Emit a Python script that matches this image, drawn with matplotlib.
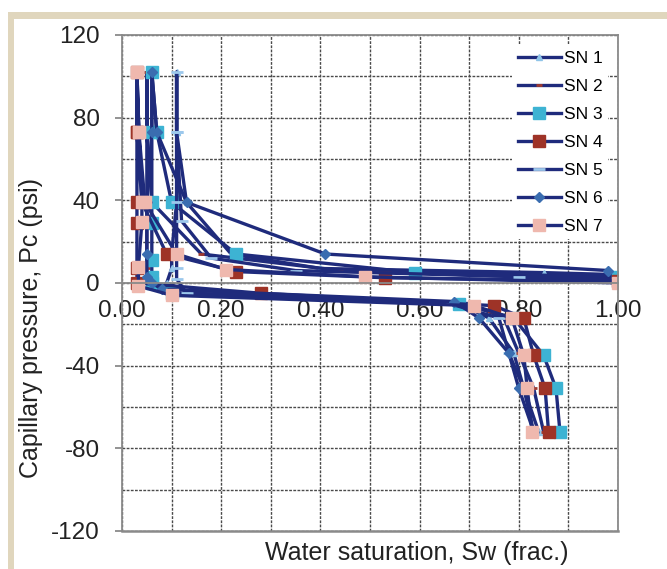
import matplotlib
matplotlib.use('Agg')
import matplotlib.pyplot as plt
from matplotlib.patches import Rectangle

plt.rcParams['font.family'] = ['Liberation Sans', 'DejaVu Sans']
plt.rcParams['axes.unicode_minus'] = False

# capillary pressure curves: primary drainage (Sw=1 -> Swi) then imbibition
labels = ['SN 1', 'SN 2', 'SN 3', 'SN 4', 'SN 5', 'SN 6', 'SN 7']

sn1_sw = [1.00, 0.85, 0.40, 0.22, 0.13, 0.11, 0.11, 0.11, 0.11, 0.10, 0.10, 0.09, 0.14, 0.68, 0.74, 0.79, 0.81, 0.84]
sn1_pc = [4, 5, 7, 14, 39, 73, 102, 73, 39, 14, 7, 0, -5, -10, -17, -34, -51, -72]

sn2_sw = [1.00, 0.82, 0.44, 0.16, 0.06, 0.05, 0.05, 0.05, 0.05, 0.05, 0.05, 0.05, 0.12, 0.70, 0.77, 0.80, 0.83, 0.85]
sn2_pc = [2, 3, 6, 14, 39, 73, 102, 73, 39, 29, 7, 0, -5, -10, -17, -34, -51, -72]

sn3_sw = [1.00, 0.59, 0.23, 0.10, 0.07, 0.06, 0.06, 0.06, 0.06, 0.06, 0.06, 0.06, 0.10, 0.68, 0.79, 0.85, 0.875, 0.883]
sn3_pc = [3, 5, 14, 39, 73, 102, 73, 39, 29, 11, 3, 0, -5, -10, -17, -35, -51, -72]

sn4_sw = [1.00, 0.53, 0.23, 0.09, 0.04, 0.03, 0.03, 0.03, 0.03, 0.03, 0.03, 0.03, 0.28, 0.75, 0.81, 0.83, 0.853, 0.86]
sn4_pc = [1, 2.5, 5.5, 14, 39, 73, 102, 73, 39, 29, 7, 0, -5, -11, -17, -35, -51, -72]

sn5_sw = [1.00, 0.80, 0.35, 0.18, 0.12, 0.11, 0.11, 0.11, 0.11, 0.11, 0.11, 0.11, 0.13, 0.66, 0.76, 0.78, 0.81, 0.83]
sn5_pc = [1, 3, 6, 12, 30, 73, 102, 73, 39, 14, 7, 2, -5, -10, -17, -34, -51, -72]

sn6_sw = [0.98, 0.41, 0.13, 0.07, 0.06, 0.06, 0.05, 0.05, 0.05, 0.06, 0.08, 0.67, 0.72, 0.78, 0.80, 0.83]
sn6_pc = [6, 14, 39, 73, 102, 73, 39, 14, 3, 0, -3, -9, -17, -34, -51, -72]

sn7_sw = [1.00, 0.49, 0.21, 0.11, 0.046, 0.034, 0.03, 0.034, 0.04, 0.04, 0.033, 0.033, 0.10, 0.71, 0.786, 0.81, 0.817, 0.827]
sn7_pc = [0, 3, 6.5, 14, 39, 73, 102, 73, 39, 29.5, 7.5, -1.5, -6, -11, -17, -35, -51, -72]

x_ticks = [0.0, 0.2, 0.4, 0.6, 0.8, 1.0]
y_ticks = [-120, -80, -40, 0, 40, 80, 120]

series = [(sn1_sw, sn1_pc), (sn2_sw, sn2_pc), (sn3_sw, sn3_pc), (sn4_sw, sn4_pc),
          (sn5_sw, sn5_pc), (sn6_sw, sn6_pc), (sn7_sw, sn7_pc)]

navy = '#1f2b7c'
styles = [
    dict(marker='^', ms=5, mfc='#8fc4e8', mec='#8fc4e8'),
    dict(marker='_', ms=5, mfc='#a03a30', mec='#a03a30', mew=2),
    dict(marker='s', ms=8.5, mfc='#3db3d3', mec='#3db3d3'),
    dict(marker='s', ms=8.5, mfc='#9e3327', mec='#9e3327'),
    dict(marker='_', ms=8, mfc='#9cc8ec', mec='#9cc8ec', mew=2),
    dict(marker='D', ms=5, mfc='#3a6db0', mec='#3a6db0'),
    dict(marker='s', ms=8.5, mfc='#efb8ae', mec='#efb8ae'),
]

fig = plt.figure(figsize=(6.67, 5.69), dpi=100)
fig.patch.set_facecolor('white')

# beige frame along the top and left edges
fig.add_artist(Rectangle((0.012, 0.0), 0.009, 0.979, transform=fig.transFigure,
                         facecolor='#e0d6bd', edgecolor='none'))
fig.add_artist(Rectangle((0.012, 0.967), 0.988, 0.012, transform=fig.transFigure,
                         facecolor='#e0d6bd', edgecolor='none'))

ax = fig.add_axes([0.183, 0.067, 0.7435, 0.8715])

for (sw, pc), lab, st in zip(series, labels, styles):
    ax.plot(sw, pc, color=navy, lw=2.4, label=lab, **st)

ax.set_xlim(0, 1.0)
ax.set_ylim(-120, 120)
ax.set_xticks(x_ticks)
ax.set_xticklabels([f'{v:.2f}' for v in x_ticks])
ax.set_yticks(y_ticks)
ax.set_xticks([i / 10 for i in range(11)], minor=True)
ax.set_yticks(list(range(-120, 121, 20)), minor=True)
ax.grid(True, which='both', color='#4a4a4a', lw=1.0, ls=(0, (2, 1)))
ax.set_axisbelow(True)

for s in ax.spines.values():
    s.set_color('#8a8a8a')
    s.set_linewidth(1.3)
ax.spines['bottom'].set_position(('data', 0))
ax.axhline(-120, color='#8a8a8a', lw=1.8, clip_on=False)

ax.tick_params(axis='x', which='both', length=0, pad=12, labelsize=17.5, colors='#222222')
ax.tick_params(axis='y', which='major', length=5, pad=11, labelsize=17.5,
               colors='#8a8a8a', labelcolor='#222222', width=1.3)
ax.tick_params(axis='y', which='minor', length=0)

fig.text(417 / 667, 1 - 553 / 569, 'Water saturation, Sw (frac.)', fontsize=18,
         color='#222222', ha='center', va='center')
fig.text(31 / 667, 1 - 328 / 569, 'Capillary pressure, Pc (psi)', fontsize=18,
         color='#222222', ha='center', va='center', rotation=90)

leg = ax.legend(loc='upper right', fontsize=12.5, frameon=True, fancybox=False,
                handlelength=2.5, handletextpad=0.15, labelspacing=0.74,
                borderpad=0.3, borderaxespad=0.6)
leg.get_frame().set_facecolor('white')
leg.get_frame().set_edgecolor('none')
leg.get_frame().set_alpha(1.0)

fig.savefig('out.png', dpi=100)
